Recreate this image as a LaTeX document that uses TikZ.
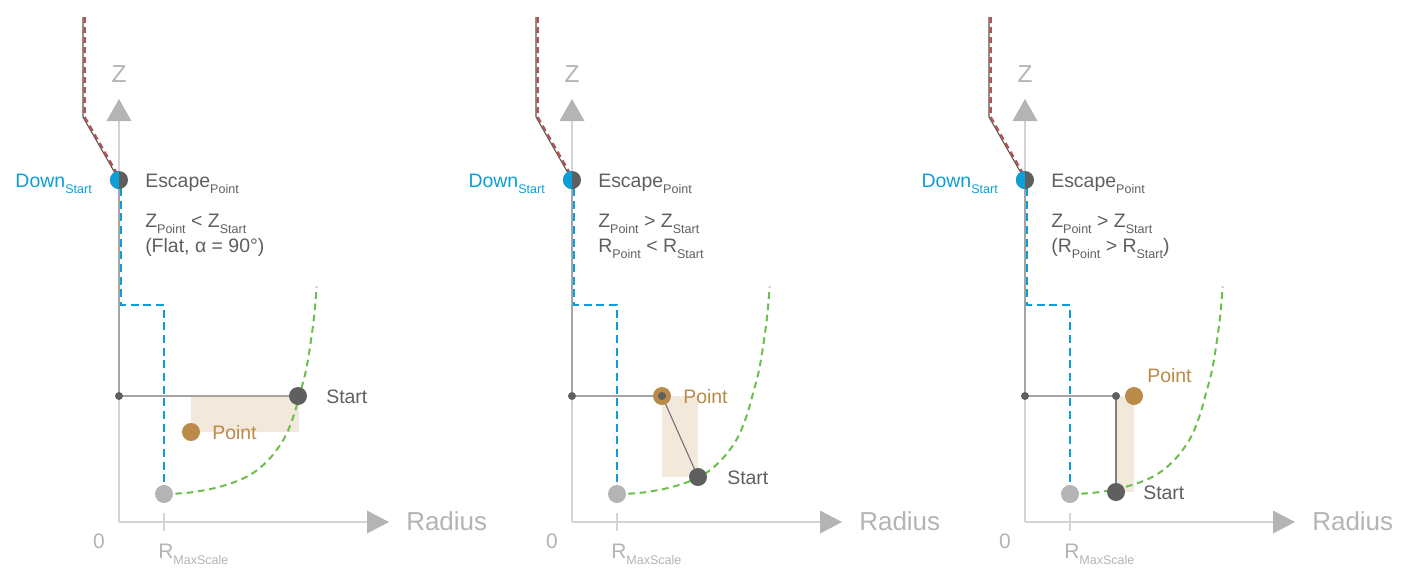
\documentclass[tikz,border=0pt]{standalone}
\usepackage{fontspec}
\setmainfont{Liberation Sans}
\definecolor{dgray}{HTML}{5F5F5F}
\definecolor{lgray}{HTML}{B4B4B4}
\definecolor{axgray}{HTML}{D4D4D4}
\definecolor{pgray}{HTML}{A4A4A4}
\definecolor{ggray}{HTML}{B4B4B4}
\definecolor{cont}{HTML}{555555}
\definecolor{cblue}{HTML}{0A9FD8}
\definecolor{corange}{HTML}{B98A48}
\definecolor{cbeige}{HTML}{F2E8DC}
\definecolor{cgreen}{HTML}{6BBF4A}
\definecolor{cred}{HTML}{B05656}
\newcommand\sbs[1]{\raisebox{-4.5pt}{\fontsize{9.4}{10}\selectfont #1}}
\tikzset{
  axisline/.style={draw=axgray, line width=1.5pt},
  tickline/.style={draw=axgray, line width=1.5pt},
  pathline/.style={draw=pgray, line width=1.5pt},
  thinline/.style={draw=dgray!90, line width=0.8pt},
  vline/.style={draw=dgray!80, line width=1.1pt},
  bigdot/.style={circle, minimum size=13.5pt, inner sep=0pt},
  smalldot/.style={circle, minimum size=6pt, inner sep=0pt, fill=dgray},
  bluepath/.style={draw=cblue, line width=1.9pt, dash pattern=on 6pt off 3.5pt},
  greenpath/.style={draw=cgreen, line width=1.5pt, dash pattern=on 5pt off 3.5pt},
  redpath/.style={draw=cred, line width=1.8pt, dash pattern=on 4.5pt off 3pt},
  contour/.style={draw=cont, line width=0.8pt},
  txt/.style={text=dgray, font=\fontsize{14.6}{17}\selectfont, inner sep=0pt},
  bluetxt/.style={text=cblue, font=\fontsize{14.6}{17}\selectfont, inner sep=0pt},
  orangetxt/.style={text=corange, font=\fontsize{14.6}{17}\selectfont, inner sep=0pt},
  zlab/.style={text=lgray, font=\fontsize{18.4}{20}\selectfont, inner sep=0pt},
  radlab/.style={text=lgray, font=\fontsize{19.5}{22}\selectfont, inner sep=0pt},
  smalllab/.style={text=lgray, font=\fontsize{15.75}{18}\selectfont, inner sep=0pt},
}
\begin{document}
\begin{tikzpicture}[x=0.75pt,y=-0.75pt]
\useasboundingbox (0,0) rectangle (1415,576);
% beige areas
\fill[cbeige] (191,396) rectangle (299,432);
\fill[cbeige] (662,396) rectangle (698,477);
\fill[cbeige] (1116,396) rectangle (1134,492);
\foreach \i/\dx in {1/0,2/453,3/906}{
\begin{scope}[shift={(\dx,0)}]
  \coordinate (o\i) at (119,522);
  \coordinate (zt\i) at (119,121);
  \coordinate (rt\i) at (367,522);
  \coordinate (E\i) at (119,180);
  \coordinate (K\i) at (119,396);
  \coordinate (G\i) at (164,494);
  \coordinate (ca\i) at (83,17);
  \coordinate (cb\i) at (83,117);
  \coordinate (ta\i) at (164,513);
  \coordinate (tb\i) at (164,531);
  \draw[axisline] (o\i) -- (zt\i);
  \draw[axisline] (o\i) -- (rt\i);
  \fill[lgray] (119,99) -- (106.5,121) -- (131.5,121) -- cycle;
  \fill[lgray] (389,522) -- (367,510.5) -- (367,533.5) -- cycle;
  \draw[tickline] (ta\i) -- (tb\i);
  \node[zlab] (z\i) at (119,74) {Z};
  \node[radlab, anchor=base west] (rad\i) at (406,530) {Radius};
  \node[smalllab] (zero\i) at (99,541) {0};
  \node[smalllab, anchor=base west] (rmax\i) at (158,558) {R\sbs{MaxScale}};
  \draw[contour] (ca\i) -- (cb\i) -- (E\i);
  \draw[redpath] ([xshift=1.2pt]ca\i) -- ([xshift=1.2pt]cb\i) -- ([xshift=1.2pt]E\i);
  \draw[pathline] (E\i) -- (K\i);
  \draw[bluepath] ([xshift=1.5pt,yshift=-6pt]E\i) -- ++(0,117) -| (G\i);
  \begin{scope}[shift={(164,494)}]
    \draw[greenpath] plot[smooth, tension=0.6] coordinates {(0,0) (26,-1.5) (56,-7.3) (82.7,-17.3) (102.7,-32.3) (119.3,-54) (129.3,-77.3) (136,-100.7) (142.7,-127.3) (149.3,-170.7) (152.7,-207.3)};
  \end{scope}
  \node[bigdot, fill=ggray] (gp\i) at (G\i) {};
  \node[bigdot, fill=dgray, path picture={\fill[cblue] (path picture bounding box.north west) rectangle (path picture bounding box.south);}] (esc\i) at (E\i) {};
  \node[bluetxt, anchor=base east] (down\i) at (92,187) {Down\sbs{Start}};
  \node[txt, anchor=base west] (escl\i) at (145,187) {Escape\sbs{Point}};
\end{scope}
}
% panel 1
\node[txt, anchor=base west] (c1a) at (145,227) {Z\sbs{Point} < Z\sbs{Start}};
\node[txt, anchor=base west] (c1b) at (145,252) {(Flat, α = 90°)};
\coordinate (S1) at (298,396);
\coordinate (P1) at (191,432);
\draw[pathline] (K1) -- (S1);
\node[smalldot] (k1) at (K1) {};
\node[bigdot, fill=dgray] (start1) at (S1) {};
\node[bigdot, fill=corange] (pt1) at (P1) {};
\node[txt, anchor=base west] (sl1) at (326,403) {Start};
\node[orangetxt, anchor=base west] (pl1) at (212,439) {Point};
% panel 2
\node[txt, anchor=base west] (c2a) at (598,227) {Z\sbs{Point} > Z\sbs{Start}};
\node[txt, anchor=base west] (c2b) at (598,252) {R\sbs{Point} < R\sbs{Start}};
\coordinate (S2) at (698,477);
\coordinate (P2) at (662,396);
\draw[pathline] (K2) -- (P2);
\draw[thinline] (P2) -- (S2);
\node[smalldot] (k2) at (K2) {};
\node[bigdot, fill=dgray] (start2) at (S2) {};
\node[bigdot, fill=corange] (pt2) at (P2) {};
\node[smalldot] (pi2) at (P2) {};
\node[txt, anchor=base west] (sl2) at (727,484) {Start};
\node[orangetxt, anchor=base west] (pl2) at (683,403) {Point};
% panel 3
\node[txt, anchor=base west] (c3a) at (1051,227) {Z\sbs{Point} > Z\sbs{Start}};
\node[txt, anchor=base west] (c3b) at (1051,252) {(R\sbs{Point} > R\sbs{Start})};
\coordinate (S3) at (1116,492);
\coordinate (P3) at (1134,396);
\coordinate (Q3) at (1116,396);
\draw[pathline] (K3) -- (Q3);
\draw[vline] (Q3) -- (S3);
\node[smalldot] (k3) at (K3) {};
\node[smalldot] (q3) at (Q3) {};
\node[bigdot, fill=dgray] (start3) at (S3) {};
\node[bigdot, fill=corange] (pt3) at (P3) {};
\node[txt, anchor=base west] (sl3) at (1143,499) {Start};
\node[orangetxt, anchor=base west] (pl3) at (1147,382) {Point};
\end{tikzpicture}
\end{document}
